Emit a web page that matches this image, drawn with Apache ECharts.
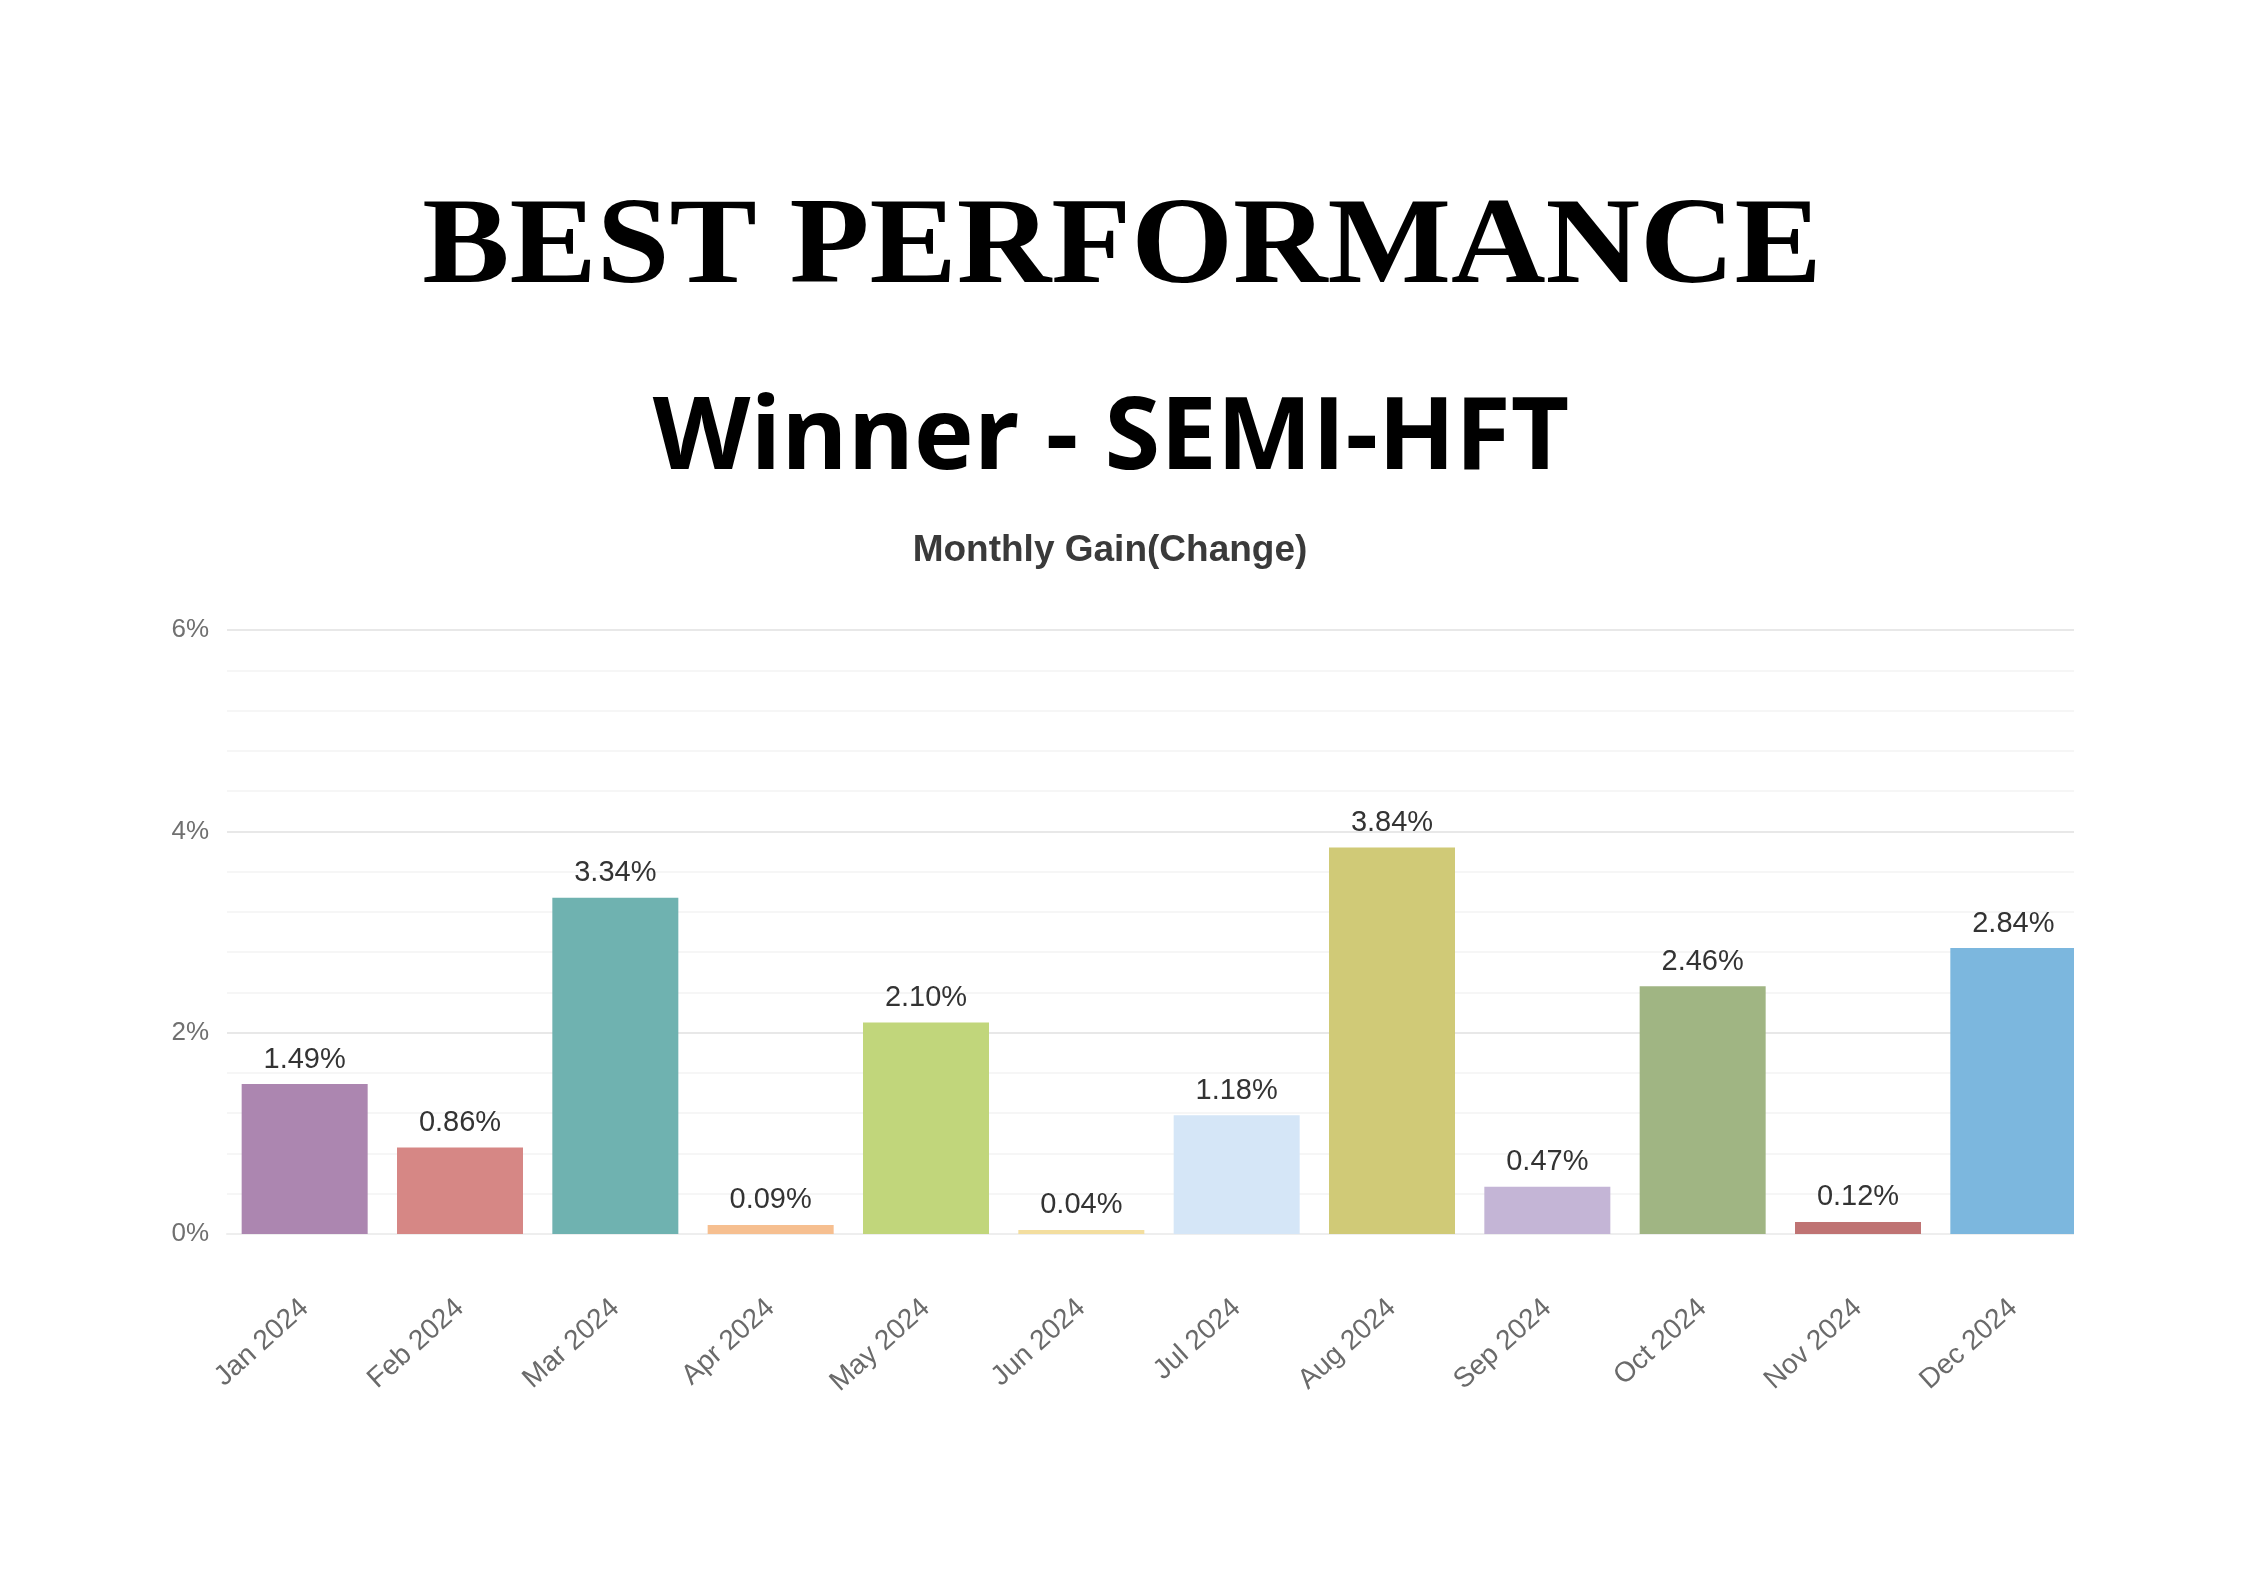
<!DOCTYPE html>
<html>
<head>
<meta charset="utf-8">
<script src="https://cdn.jsdelivr.net/npm/echarts@6/dist/echarts.min.js"></script>
<style>
html,body{margin:0;padding:0;background:#fff;}
#chart{width:2245px;height:1587px;}
</style>
</head>
<body>
<div id="chart"></div>
<script>
const months = ['Jan 2024','Feb 2024','Mar 2024','Apr 2024','May 2024','Jun 2024','Jul 2024','Aug 2024','Sep 2024','Oct 2024','Nov 2024','Dec 2024'];
const gains = [1.49, 0.86, 3.34, 0.09, 2.10, 0.04, 1.18, 3.84, 0.47, 2.46, 0.12, 2.84];
const barColors = ['#ac86b0','#d68785','#6fb2b0','#f6bf90','#c1d67b','#f3de9f','#d5e6f7','#d0ca77','#c4b5d6','#a0b583','#bf7373','#7cb7de'];
const yTicks = [0, 2, 4, 6];
const mainTitle = 'BEST PERFORMANCE';

const chart = echarts.init(document.getElementById('chart'));
chart.setOption({
  backgroundColor: '#ffffff',
  animation: false,
  title: [
    { text: 'Winner - SEMI-HFT', left: 1106, top: 385, textAlign: 'center',
      textStyle: { fontFamily: "'Open Sans'", fontWeight: 'bold', fontSize: 101, color: '#000' } },
    { text: 'Monthly Gain(Change)', left: 1105, top: 527, textAlign: 'center',
      textStyle: { fontFamily: "'Liberation Sans'", fontWeight: 'bold', fontSize: 37, color: '#3a3a3a' } }
  ],
  grid: { left: 227, right: 154, top: 630, bottom: 1587 - 1234, containLabel: false },
  xAxis: {
    type: 'category',
    data: months,
    axisLine: { show: true, lineStyle: { color: '#eeeeee', width: 2 } },
    axisTick: { show: false },
    axisLabel: { rotate: 42, margin: 70, fontFamily: "'Liberation Sans'", fontSize: 28, color: '#6a6a6a', interval: 0 }
  },
  yAxis: {
    type: 'value',
    min: 0, max: 6, interval: 2,
    axisLine: { show: false },
    axisTick: { show: false },
    axisLabel: { formatter: v => yTicks.includes(v) ? v + '%' : '', margin: 18, fontFamily: "'Liberation Sans'", fontSize: 26, color: '#707070' },
    splitLine: { show: true, lineStyle: { color: '#e8e8e8', width: 2 } },
    minorTick: { show: false, splitNumber: 5 },
    minorSplitLine: { show: true, lineStyle: { color: '#f4f4f4', width: 1.5 } }
  },
  series: [{
    type: 'bar',
    barWidth: 126,
    data: gains.map((v, i) => ({ value: v, itemStyle: { color: barColors[i] } })),
    label: {
      show: true, position: 'top', distance: 10,
      formatter: p => p.value.toFixed(2) + '%',
      fontFamily: "'Liberation Sans'", fontSize: 29, color: '#333'
    }
  }],
  graphic: [
    { type: 'text', x: 1122, y: 189, scaleX: 1.064, z: 100,
      style: { text: mainTitle, align: 'center', verticalAlign: 'top', fill: '#000',
               fontFamily: "'Liberation Serif', serif", fontWeight: 'bold', fontSize: 123 } },
    { type: 'rect', left: 2074, top: 600, shape: { width: 171, height: 700 }, style: { fill: '#ffffff' }, z: 100 },
    { type: 'rect', left: 0, top: 600, shape: { width: 170, height: 660 }, style: { fill: '#ffffff' }, z: 100 }
  ]
});
</script>
</body>
</html>
